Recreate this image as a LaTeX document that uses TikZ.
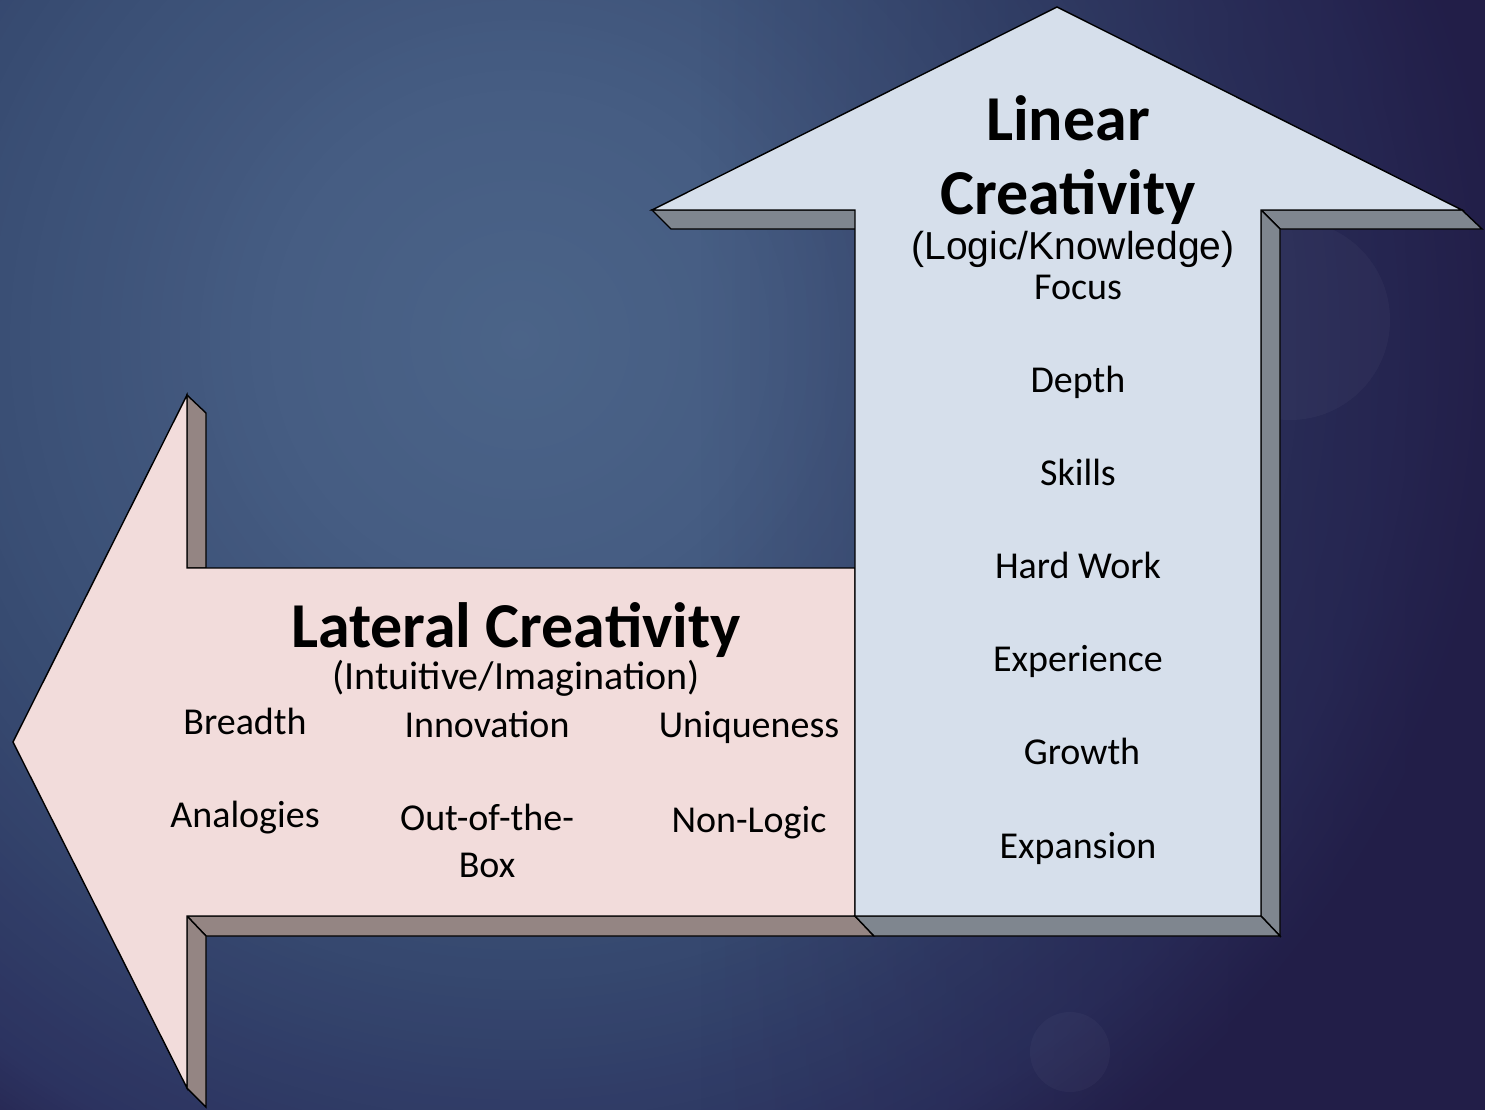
\documentclass[tikz,border=0pt]{standalone}
\usepackage{fontspec}
\usetikzlibrary{fadings}
\setmainfont{Carlito}
\newfontfamily\arialf{Liberation Sans}
\definecolor{pinkF}{HTML}{F2DCDB}
\definecolor{pinkS}{HTML}{948583}
\definecolor{blueF}{HTML}{D6DFEB}
\definecolor{blueS}{HTML}{7F868F}
\definecolor{bgA}{HTML}{4B6488}
\definecolor{bgB}{HTML}{465D83}
\definecolor{bgC}{HTML}{374B71}
\definecolor{bgD}{HTML}{2C3360}
\definecolor{bgE}{HTML}{221E48}
\tikzfading[name=fadein right, left color=transparent!100, right color=transparent!0]
\begin{document}
\begin{tikzpicture}[x=1pt,y=-1pt,
  edge/.style={draw=black,line width=1.4pt,line join=miter},
  pinkface/.style={edge,fill=pinkF},
  pinkside/.style={edge,fill=pinkS},
  blueface/.style={edge,fill=blueF},
  blueside/.style={edge,fill=blueS},
  title/.style={font=\fontsize{64}{64}\selectfont\bfseries,inner sep=0pt,anchor=base},
  sub/.style={font=\arialf\fontsize{39}{39}\selectfont,inner sep=0pt,anchor=base},
  subc/.style={font=\fontsize{40}{40}\selectfont,inner sep=0pt,anchor=base},
  item/.style={font=\fontsize{38}{38}\selectfont,inner sep=0pt,anchor=base}]
% background
\useasboundingbox (0,0) rectangle (1485,1109);
\begin{scope}
\clip (-3,-3) rectangle (1488,1112);
\fill[bgE] (-3,-3) rectangle (1488,1112);
\foreach \r in {1000,995,...,880}{\pgfmathsetmacro\p{(1000-\r)/1.2}\fill[bgD!\p!bgE] (520,340) circle (\r);}
\foreach \r in {870,860,...,600}{\pgfmathsetmacro\p{(880-\r)/2.8}\fill[bgC!\p!bgD] (520,340) circle (\r);}
\foreach \r in {590,580,...,240}{\pgfmathsetmacro\p{(600-\r)/3.6}\fill[bgB!\p!bgC] (520,340) circle (\r);}
\foreach \r in {230,220,...,10}{\pgfmathsetmacro\p{(240-\r)/2.4}\fill[bgA!\p!bgB] (520,340) circle (\r);}
\fill[bgE,path fading=fadein right,fill opacity=0.75] (700,-3) rectangle (1488,1112);
\fill[white,opacity=0.03] (1290,320) circle (100);
\fill[white,opacity=0.03] (1070,1052) circle (40);
\end{scope}
% pink arrow (left)
\path[pinkside] (187,395) -- (206,413) -- (206,568) -- (187,568) -- cycle;
\path[pinkside] (187,916) -- (855,916) -- (874,936) -- (206,936) -- cycle;
\path[pinkside] (187,916) -- (206,936) -- (206,1107) -- (187,1088) -- cycle;
\path[pinkface] (13,742) -- (187,395) -- (187,568) -- (855,568) -- (855,916) -- (187,916) -- (187,1088) -- cycle;
% blue arrow (up)
\path[blueside] (652,210) -- (855,210) -- (874,229) -- (671,229) -- cycle;
\path[blueside] (1261,210) -- (1462,210) -- (1482,229) -- (1280,229) -- cycle;
\path[blueside] (1261,210) -- (1280,229) -- (1280,936) -- (1261,916) -- cycle;
\path[blueside] (855,916) -- (1261,916) -- (1280,936) -- (874,936) -- cycle;
\path[blueface] (1057,7) -- (1462,210) -- (1261,210) -- (1261,916) -- (855,916) -- (855,210) -- (652,210) -- cycle;
% texts linear
\node[title] (lin1) at (1068,140) {Linear};
\node[title] (lin2) at (1068,214) {Creativity};
\node[sub] (linsub) at (1073,259) {(Logic/Knowledge)};
\node[item] (focus) at (1078,299) {Focus};
\node[item] (depth) at (1078,392) {Depth};
\node[item] (skills) at (1078,485) {Skills};
\node[item] (hard) at (1078,578) {Hard Work};
\node[item] (exp) at (1078,671) {Experience};
\node[item] (growth) at (1082,764) {Growth};
\node[item] (expan) at (1078,858) {Expansion};
% texts lateral
\node[title] (lat) at (516,647) {Lateral Creativity};
\node[subc] (latsub) at (516,689) {(Intuitive/Imagination)};
\node[item] (bread) at (245,734) {Breadth};
\node[item] (innov) at (487,737) {Innovation};
\node[item] (uniq) at (749,737) {Uniqueness};
\node[item] (anal) at (245,827) {Analogies};
\node[item] (out) at (487,830) {Out-of-the-};
\node[item] (box) at (487,877) {Box};
\node[item] (nonl) at (749,832) {Non-Logic};
\end{tikzpicture}
\end{document}
